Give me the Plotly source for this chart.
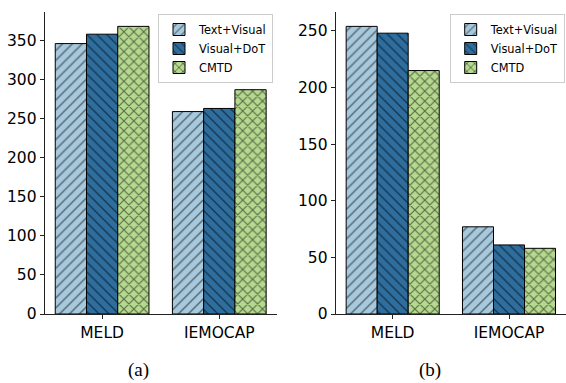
import plotly.graph_objects as go

categories = ["MELD", "IEMOCAP"]
series_names = ["Text+Visual", "Visual+DoT", "CMTD"]
values_a = {
    "Text+Visual": [346, 259],
    "Visual+DoT": [358, 263],
    "CMTD": [368, 287],
}
values_b = {
    "Text+Visual": [254, 77],
    "Visual+DoT": [248, 61],
    "CMTD": [215, 58],
}
yticks_a = [0, 50, 100, 150, 200, 250, 300, 350]
yticks_b = [0, 50, 100, 150, 200, 250]
panel_labels = ["(a)", "(b)"]

colors = {"Text+Visual": "#a7c9dd", "Visual+DoT": "#2e6e9e", "CMTD": "#b5d98f"}
shapes = {"Text+Visual": "/", "Visual+DoT": "\\", "CMTD": "x"}
solid = {"Text+Visual": 0.2, "Visual+DoT": 0.2, "CMTD": 0.3}

# the picture is photographed with a slight vertical squeeze, so the page is
# made a little taller; positions below are given in target pixels
W, H = 566, 392
REF_H = 383

fig = go.Figure()
xpos = list(range(len(categories)))

for vals, xa, ya, leg in [
    (values_a, "x", "y", "legend"),
    (values_b, "x2", "y2", "legend2"),
]:
    for name in series_names:
        fig.add_trace(go.Bar(
            x=xpos, y=vals[name], name=name,
            xaxis=xa, yaxis=ya, legend=leg,
            marker=dict(
                color=colors[name],
                line=dict(color="black", width=1),
                pattern=dict(shape=shapes[name], fgcolor="black",
                             bgcolor=colors[name], size=7, solidity=solid[name]),
            ),
            hoverinfo="skip",
        ))

font_tick = dict(family="DejaVu Sans", size=15.5, color="black")
axis_common = dict(showline=True, linecolor="#222", linewidth=1, ticks="outside",
                   ticklen=4, tickcolor="#222", showgrid=False, zeroline=False,
                   tickfont=font_tick)


def px_x(p):
    return p / W


def px_y(p):
    return 1 - p / REF_H


legend_common = dict(xanchor="left", yanchor="top", bgcolor="white",
                     bordercolor="#cccccc", borderwidth=1,
                     font=dict(family="DejaVu Sans", size=11.4, color="black"),
                     tracegroupgap=0)

fig.update_layout(
    width=W, height=H,
    margin=dict(l=0, r=0, t=0, b=0),
    paper_bgcolor="white", plot_bgcolor="white",
    barmode="group", bargap=0.2, bargroupgap=0,
    xaxis=dict(domain=[px_x(44.7), px_x(276.7)], range=[-0.49, 1.49],
               tickvals=xpos, ticktext=categories, anchor="y", **axis_common),
    yaxis=dict(domain=[px_y(314), px_y(12)], range=[0, 386.4],
               tickvals=yticks_a, anchor="x", **axis_common),
    xaxis2=dict(domain=[px_x(335.7), 1.0], range=[-0.49, 1.49],
                tickvals=xpos, ticktext=categories, anchor="y2", **axis_common),
    yaxis2=dict(domain=[px_y(314), px_y(12)], range=[0, 266.7],
                tickvals=yticks_b, anchor="x2", **axis_common),
    legend=dict(x=px_x(158), y=px_y(14), **legend_common),
    legend2=dict(x=px_x(449.7), y=px_y(14), **legend_common),
    annotations=[
        dict(text=panel_labels[0], x=px_x(138), y=px_y(370), xref="paper", yref="paper",
             xanchor="center", yanchor="middle",
             showarrow=False, font=dict(family="Liberation Serif", size=19, color="black")),
        dict(text=panel_labels[1], x=px_x(430), y=px_y(370), xref="paper", yref="paper",
             xanchor="center", yanchor="middle",
             showarrow=False, font=dict(family="Liberation Serif", size=19, color="black")),
    ],
)

fig.write_html(
    "out.html",
    config={"displayModeBar": False},
    post_script="document.body.style.margin='0';document.body.style.overflow='hidden';",
)
